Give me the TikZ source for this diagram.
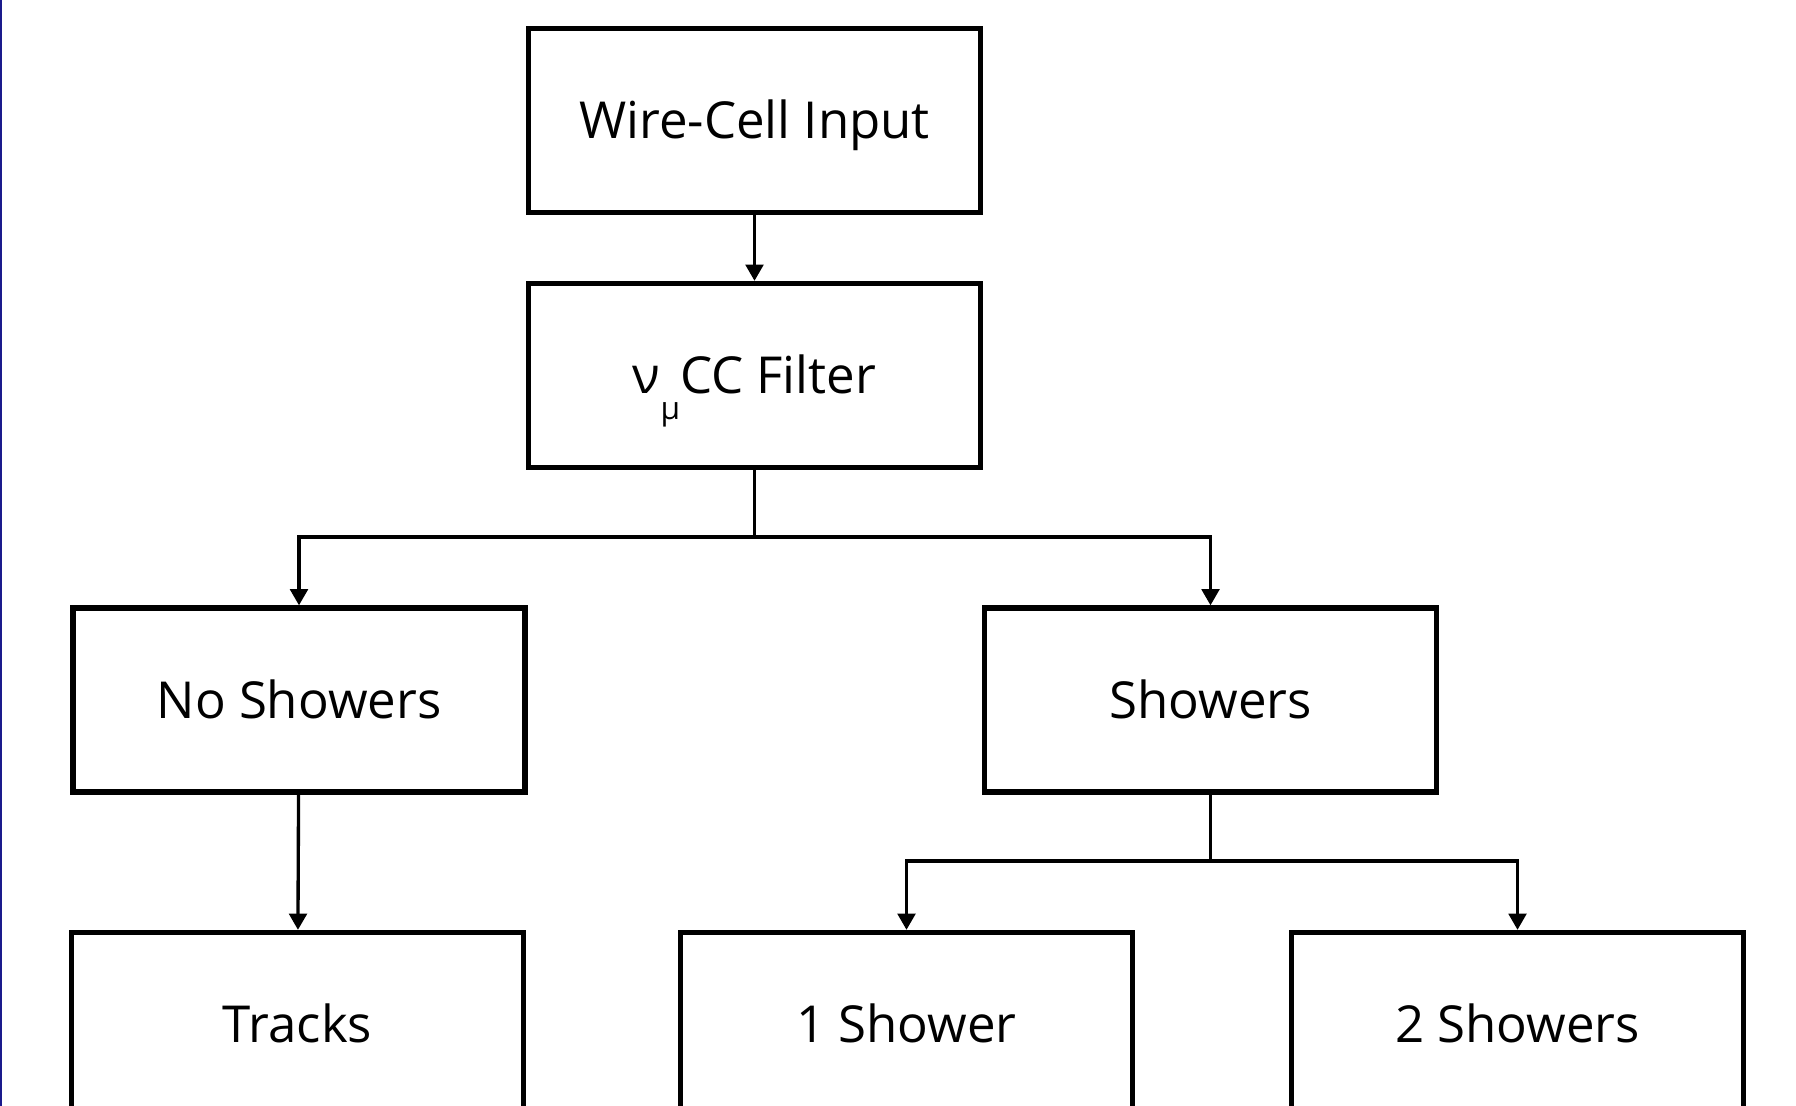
\documentclass[tikz,border=0pt]{standalone}
\usepackage{fontspec}
\setmainfont{Open Sans}
\usetikzlibrary{arrows.meta}
\definecolor{edgeblue}{HTML}{1A1A8C}
\begin{document}
\begin{tikzpicture}[
    every node/.style={font=\fontsize{14.5}{17}\selectfont},
    stage/.style={draw, line width=1.5pt, minimum width=4.52cm, minimum height=1.84cm,
      inner sep=0pt, text height=10.35pt, text depth=0pt},
    flow/.style={line width=0.95pt, -{Triangle[width=5pt,length=4.6pt]}},
    plain/.style={line width=0.95pt}]
  \useasboundingbox (0,0) rectangle (17.96,11.06);
  \clip (0,0) rectangle (17.96,11.06);
  \fill[white] (0,0) rectangle (17.96,11.06);
  \draw[edgeblue, line width=0.6pt] (0.01,0) -- (0.01,11.06);

  % top chain
  \node[stage] (wci) at (7.545,9.855) {Wire-Cell Input};
  \node[stage] (filt) at (7.545,7.305) {ν\raisebox{-0.5em}{\fontsize{9}{9}\selectfont μ}CC Filter};
  \draw[flow] (wci) -- (filt);

  % first split
  \node[stage] (nosh) at (2.99,4.06) {No Showers};
  \node[stage] (shw) at (12.105,4.06) {Showers};
  \coordinate (split1) at (7.545,5.69);
  \draw[plain] (filt) -- (split1);
  \draw[flow] (split1) -| (nosh);
  \draw[flow] (split1) -| (shw);

  % bottom row
  \node[stage] (trk) at (2.975,0.815) {Tracks};
  \node[stage] (one) at (9.065,0.815) {1 Shower};
  \node[stage] (two) at (15.175,0.815) {2 Showers};
  \draw[flow] (nosh) -- (trk);
  \coordinate (split2) at (12.105,2.45);
  \draw[plain] (shw) -- (split2);
  \draw[flow] (split2) -| (one);
  \draw[flow] (split2) -| (two);
\end{tikzpicture}
\end{document}
